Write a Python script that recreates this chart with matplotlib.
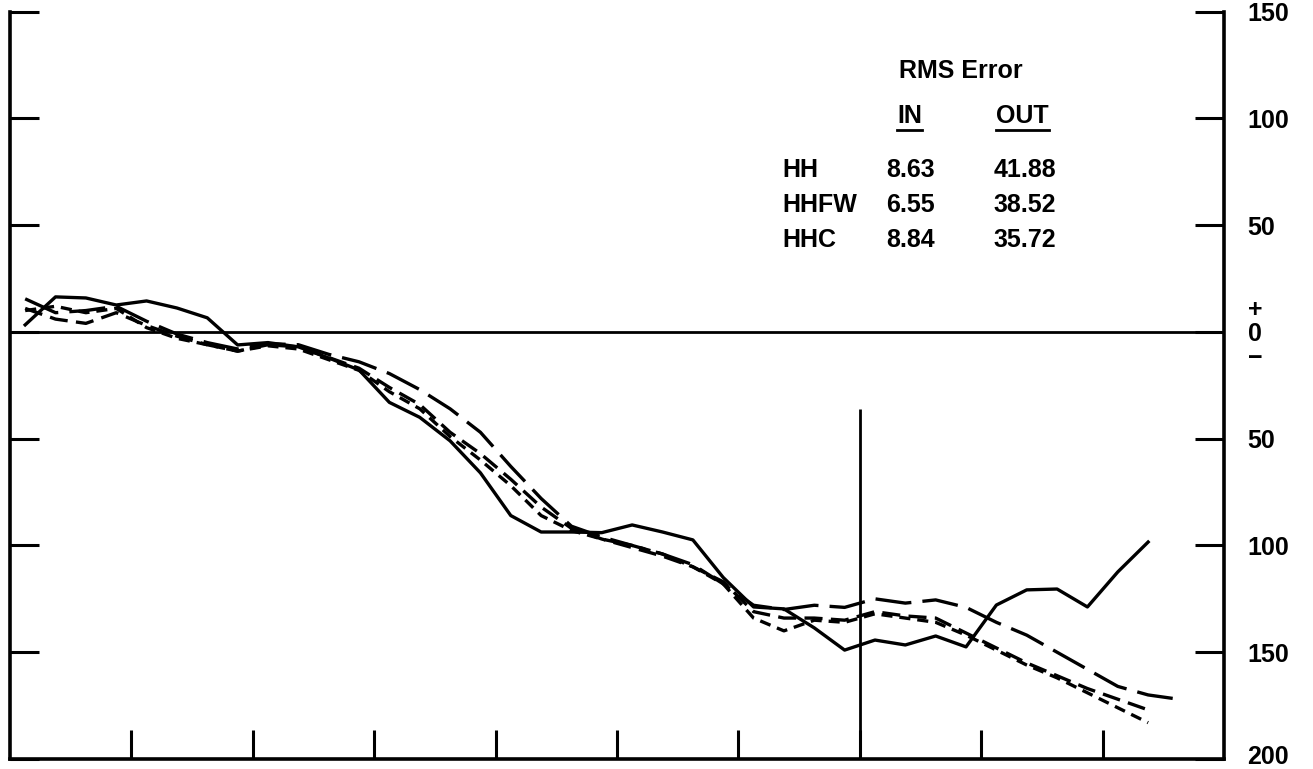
import matplotlib
matplotlib.use("Agg")
import matplotlib.pyplot as plt
import numpy as np
from matplotlib.lines import Line2D
from matplotlib.transforms import ScaledTranslation

plt.rcParams['font.family'] = ['Liberation Sans', 'DejaVu Sans']
plt.rcParams['font.weight'] = 'bold'
plt.rcParams['lines.scale_dashes'] = False

# quarterly observations, plotted at mid-quarter (years from start)
quarter = np.arange(39)
year = 0.125 + 0.25 * quarter

actual = [3.3, 16.4, 15.9, 12.6, 14.5, 11.2, 6.6, -6.1, -5.0, -7.0,
          -12.2, -17.8, -33, -40, -51, -66, -86, -93.7, -93.7, -94,
          -90.4, -93.7, -97.4, -115, -128.8, -129.7, -138.6, -149, -144.3, -146.6,
          -142.4, -147.5, -127.9, -120.8, -120.4, -128.8, -112.4, -98.4]

hh = [15.5, 9, 10, 12, 5, -1, -5, -8, -5.5, -6,
      -10.5, -14, -19.5, -27, -36, -47, -63, -78, -91, -96,
      -100, -104, -109, -118, -128, -130, -128, -129, -125, -127,
      -125.5, -129, -136, -142, -150, -158, -166, -170, -172]

hhfw = [11, 6, 4, 9, 3, -2, -6, -9, -6, -7,
        -12, -17, -26, -34, -47, -57, -69, -82, -92, -97,
        -101, -105, -110, -117, -131, -134, -134, -135, -131, -133,
        -134, -141, -148, -155, -161, -167, -172, -177]

hhc = [10, 12, 9, 11, 2, -3, -6, -9, -6.5, -8,
       -13, -18, -28, -36, -49, -60, -72, -86, -93, -97,
       -100, -104, -110, -118, -134, -140, -135, -136, -132, -134,
       -136, -142, -149, -156, -162, -169, -176, -183]

split_year = 7
split_top = -36

models = ['HH', 'HHFW', 'HHC']
rms_in = ['8.63', '6.55', '8.84']
rms_out = ['41.88', '38.52', '35.72']

ytick_pos = [-200, -150, -100, -50, 0, 50, 100, 150]
ytick_lab = ['200', '150', '100', '50', '+\n0\n\u2212', '50', '100', '150']

fig = plt.figure(figsize=(13.13, 7.69), dpi=100)
ax = fig.add_axes([10 / 1313, 1 - 759 / 769, 1214 / 1313, 747.4 / 769])

lw = 2.4
ax.plot(year[:len(actual)], actual, color='black', lw=lw)
ax.plot(year[:len(hh)], hh, color='black', lw=lw, dashes=(26, 8))
ax.plot(year[:len(hhfw)], hhfw, color='black', lw=lw, dashes=(13, 6))
ax.plot(year[:len(hhc)], hhc, color='black', lw=lw, dashes=(8, 5))

ax.axhline(0, color='black', lw=2.0)
ax.vlines(split_year, -200, split_top, color='black', lw=2.0)

ax.set_xlim(0, 10)
ax.set_ylim(-200, 150)
ax.set_xticks(range(1, 10))
ax.set_yticks(ytick_pos)
ax.set_yticklabels(ytick_lab)

ax.tick_params(axis='x', direction='in', length=21, width=2.2,
               labelbottom=False, top=False)
ax.tick_params(axis='y', direction='in', length=21, width=2.2,
               left=True, right=True, labelleft=False, labelright=True,
               labelsize=18, pad=17)
for lab in ax.get_yticklabels():
    lab.set_multialignment('center')
    lab.set_linespacing(1.0)
# keep the bottom label inside the picture
bottom_lab = ax.get_yticklabels()[0]
bottom_lab.set_transform(bottom_lab.get_transform()
                         + ScaledTranslation(0, 4 / 100, fig.dpi_scale_trans))

ax.spines['top'].set_visible(False)
for s in ['left', 'right', 'bottom']:
    ax.spines[s].set_linewidth(2.6)

fs = 18
ax.text(7.83, 122, 'RMS Error', fontsize=fs, ha='center', va='center')
t_in = ax.text(7.41, 101, 'IN', fontsize=fs, ha='center', va='center')
t_out = ax.text(8.34, 101, 'OUT', fontsize=fs, ha='center', va='center')

row_y = [76, 59.5, 43]
for name, vin, vout, yy in zip(models, rms_in, rms_out, row_y):
    ax.text(6.36, yy, name, fontsize=fs, ha='left', va='center')
    ax.text(7.42, yy, vin, fontsize=fs, ha='center', va='center')
    ax.text(8.36, yy, vout, fontsize=fs, ha='center', va='center')

# underline the column headings
fig.canvas.draw()
inv = fig.transFigure.inverted()
for t in (t_in, t_out):
    bb = t.get_window_extent()
    x0, y0 = inv.transform((bb.x0, bb.y0 - 2))
    x1, _ = inv.transform((bb.x1, bb.y0 - 2))
    fig.add_artist(Line2D([x0, x1], [y0, y0], color='black', lw=2.0,
                          transform=fig.transFigure))

fig.savefig('out.png', dpi=100)
